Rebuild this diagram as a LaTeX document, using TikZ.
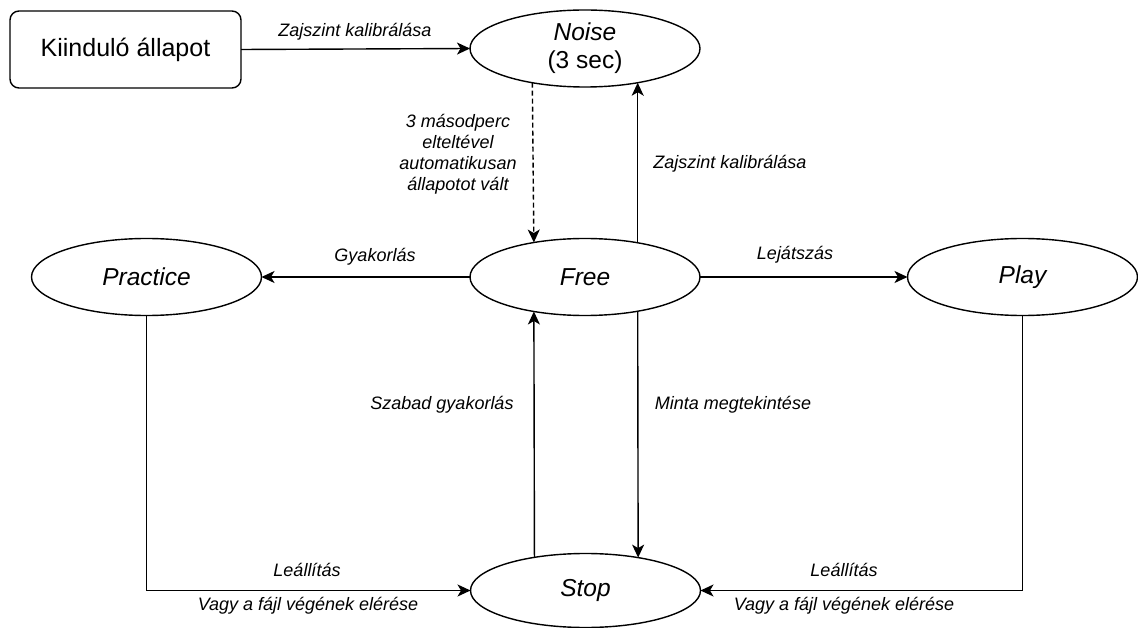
\documentclass[tikz,border=0pt]{standalone}
\usepackage{fontspec}
\setmainfont{Liberation Sans}
\usetikzlibrary{shapes.geometric,arrows.meta}
\begin{document}
\begin{tikzpicture}[x=1pt,y=-1pt,
  state/.style={draw,line width=1.4pt,ellipse,minimum width=230pt,minimum height=77pt,inner sep=0pt,outer sep=0pt,font=\fontsize{24.5}{30}\selectfont\itshape,align=center},
  startbox/.style={draw,line width=1.4pt,rounded corners=9pt,minimum width=231pt,minimum height=77pt,inner sep=0pt,outer sep=0pt,font=\fontsize{25}{30}\selectfont},
  conn/.style={line width=1.4pt,-{Stealth[length=13pt,width=12pt,inset=3.5pt]}},
  lbl/.style={font=\fontsize{18}{21}\selectfont\itshape,inner sep=0pt,align=center}]
\useasboundingbox (0,0) rectangle (1138,628);
\node[startbox] (start) at (125.5,49.5) {Kiinduló állapot};
\node[state] (noise) at (585,48.5) {Noise\\[-2pt]\upshape(3 sec)};
\node[state] (free) at (585,277) {Free};
\node[state] (practice) at (146.5,277) {Practice};
\node[state] (play) at (1022.5,277) {Play};
\node[state,minimum height=74pt] (stop) at (585.5,590.5) {Stop};

\draw[conn] (start.east) -- (noise.west);
\node[lbl] (l1) at (355,32) {Zajszint kalibrálása};

\draw[conn,dashed,dash pattern=on 5pt off 3pt] (noise.213.4) -- (free.146.6);
\node[lbl] (l2) at (458,154) {3 másodperc\\elteltével\\automatikusan\\állapotot vált};

\draw[conn] (free.33.4) -- (noise.-33.4);
\node[lbl] (l3) at (730,164) {Zajszint kalibrálása};

\draw[conn] (free.west) -- (practice.east);
\node[lbl] (l4) at (375,257) {Gyakorlás};

\draw[conn] (free.east) -- (play.west);
\node[lbl] (l5) at (795,255) {Lejátszás};

\draw[conn] (stop.147.5) -- (free.-146.6);
\node[lbl] (l6) at (442,405) {Szabad gyakorlás};

\draw[conn] (free.-33.4) -- (stop.32.5);
\node[lbl] (l7) at (733,405) {Minta megtekintése};

\draw[conn] (practice.south) |- (stop.west);
\node[lbl] (l8) at (307,570) {Leállítás};
\node[lbl] (l9) at (308,606) {Vagy a fájl végének elérése};

\draw[conn] (play.south) |- (stop.east);
\node[lbl] (l10) at (844,570) {Leállítás};
\node[lbl] (l11) at (844,606) {Vagy a fájl végének elérése};
\end{tikzpicture}
\end{document}
